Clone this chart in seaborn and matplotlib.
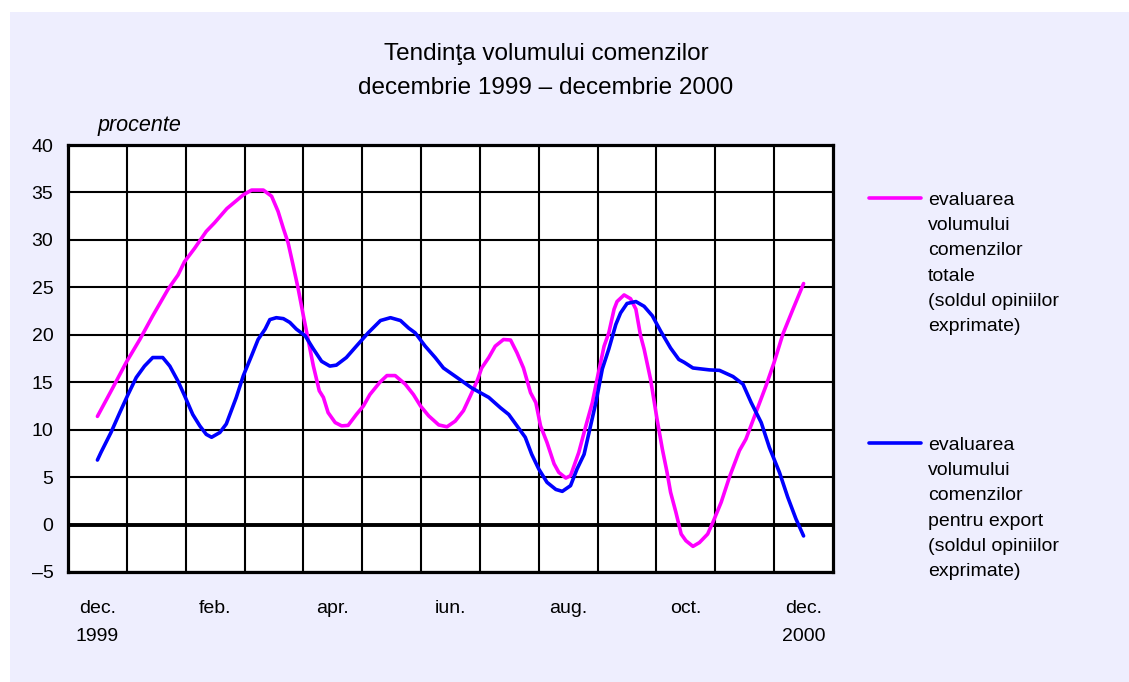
import matplotlib
matplotlib.use("Agg")
import matplotlib.pyplot as plt
import seaborn as sns
import pandas as pd
from matplotlib.patches import Rectangle
from matplotlib.ticker import MultipleLocator, FixedLocator

# month index: 0 = dec. 1999 ... 12 = dec. 2000
total_x = [0.00, 0.26, 0.49, 0.72, 0.94, 1.20, 1.37, 1.48, 1.65, 1.85, 1.99, 2.20,
           2.48, 2.62, 2.82, 2.96, 3.07, 3.16, 3.24, 3.33, 3.41, 3.50, 3.58, 3.67,
           3.77, 3.84, 3.92, 4.04, 4.15, 4.26, 4.40, 4.52, 4.63, 4.80, 4.92, 5.06,
           5.23, 5.37, 5.49, 5.63, 5.80, 5.94, 6.08, 6.22, 6.34, 6.45, 6.53, 6.65,
           6.76, 6.90, 7.02, 7.13, 7.24, 7.36, 7.45, 7.53, 7.64, 7.76, 7.84, 7.96,
           8.04, 8.18, 8.30, 8.41, 8.49, 8.61, 8.69, 8.78, 8.83, 8.95, 9.06, 9.15,
           9.23, 9.29, 9.40, 9.51, 9.60, 9.68, 9.74, 9.83, 9.92, 10.00, 10.12, 10.23,
           10.37, 10.46, 10.60, 10.74, 10.91, 11.02, 11.19, 11.36, 11.50, 11.65,
           11.82, 12.00]
total_y = [11.4, 14.4, 17.1, 19.5, 22.0, 24.8, 26.3, 27.7, 29.1, 30.9, 31.8, 33.3,
           34.75, 35.25, 35.25, 34.6, 33.0, 31.2, 29.7, 27.2, 24.9, 22.0, 19.5, 16.7,
           14.1, 13.4, 11.8, 10.75, 10.4, 10.45, 11.6, 12.5, 13.7, 15.0, 15.7, 15.7,
           14.8, 13.7, 12.5, 11.45, 10.5, 10.3, 10.9, 12.0, 13.6, 15.1, 16.5, 17.6,
           18.8, 19.5, 19.45, 18.1, 16.5, 13.9, 12.85, 10.4, 8.65, 6.4, 5.5, 4.9,
           5.15, 7.6, 10.4, 12.85, 15.3, 18.8, 20.2, 22.7, 23.5, 24.2, 23.8, 22.7,
           19.9, 18.5, 15.3, 11.1, 7.95, 5.5, 3.4, 1.3, -1.0, -1.7, -2.3, -1.9,
           -1.0, 0.25, 2.35, 5.0, 7.8, 9.0, 11.8, 14.6, 17.1, 20.1,
           22.7, 25.4]

export_x = [0.00, 0.06, 0.23, 0.38, 0.52, 0.66, 0.80, 0.94, 1.11, 1.23, 1.37, 1.48,
            1.62, 1.74, 1.85, 1.94, 2.08, 2.19, 2.36, 2.48, 2.62, 2.73, 2.85, 2.93,
            3.04, 3.16, 3.27, 3.38, 3.53, 3.67, 3.81, 3.95, 4.06, 4.23, 4.40, 4.60,
            4.81, 4.98, 5.15, 5.29, 5.40, 5.57, 5.74, 5.88, 6.11, 6.36, 6.65, 6.85,
            6.99, 7.13, 7.27, 7.38, 7.50, 7.64, 7.79, 7.90, 8.04, 8.15, 8.27, 8.38,
            8.47, 8.58, 8.69, 8.81, 8.89, 9.00, 9.15, 9.29, 9.43, 9.57, 9.74, 9.88,
            9.97, 10.12, 10.40, 10.57, 10.80, 10.97, 11.11, 11.28, 11.42, 11.59,
            11.73, 11.87, 12.00]
export_y = [6.8, 7.6, 9.7, 11.8, 13.7, 15.5, 16.7, 17.6, 17.6, 16.7, 15.1, 13.6,
            11.6, 10.4, 9.5, 9.2, 9.7, 10.6, 13.4, 15.7, 17.8, 19.5, 20.6, 21.6,
            21.8, 21.7, 21.3, 20.6, 19.9, 18.5, 17.2, 16.7, 16.8, 17.6, 18.8, 20.2,
            21.5, 21.8, 21.5, 20.7, 20.2, 18.8, 17.6, 16.5, 15.5, 14.4, 13.4, 12.3,
            11.6, 10.4, 9.2, 7.4, 5.85, 4.45, 3.7, 3.5, 4.1, 5.85, 7.4, 10.4,
            12.85, 16.4, 18.5, 21.1, 22.3, 23.3, 23.5, 23.0, 22.0, 20.4, 18.6, 17.4,
            17.1, 16.5, 16.3, 16.25, 15.6, 14.8, 12.85, 10.75, 8.1, 5.5,
            2.9, 0.6, -1.2]

month_ticks = [0, 2, 4, 6, 8, 10, 12]
month_labels = ["dec.\n1999", "feb.", "apr.", "iun.", "aug.", "oct.", "dec.\n2000"]
y_ticks = [-5, 0, 5, 10, 15, 20, 25, 30, 35, 40]
y_labels = ["\u20135", "0", "5", "10", "15", "20", "25", "30", "35", "40"]

label_total = "evaluarea\nvolumului\ncomenzilor\ntotale\n(soldul opiniilor\nexprimate)"
label_export = "evaluarea\nvolumului\ncomenzilor\npentru export\n(soldul opiniilor\nexprimate)"

pink = "#FF00FF"
blue = "#0000FF"
bg = "#EEEEFE"

sns.set_style("white")
plt.rcParams["font.family"] = ["Liberation Sans", "DejaVu Sans"]
plt.rcParams["text.color"] = "black"
plt.rcParams["xtick.color"] = "black"
plt.rcParams["ytick.color"] = "black"

fig = plt.figure(figsize=(11.29, 6.82), dpi=100)
fig.patch.set_facecolor("white")
fig.patches.append(Rectangle((10 / 1129, 0), 1 - 10 / 1129, 1 - 12 / 682,
                             transform=fig.transFigure, facecolor=bg,
                             edgecolor="none", zorder=-10))

ax = fig.add_axes([68 / 1129, 110 / 682, 765 / 1129, 427 / 682])
ax.set_facecolor("white")

df_total = pd.DataFrame({"luna": total_x, "valoare": total_y})
df_export = pd.DataFrame({"luna": export_x, "valoare": export_y})
sns.lineplot(data=df_total, x="luna", y="valoare", color=pink, lw=2.6, ax=ax, zorder=5)
sns.lineplot(data=df_export, x="luna", y="valoare", color=blue, lw=2.6, ax=ax, zorder=6)

ax.set_xlim(-0.5, 12.5)
ax.set_ylim(-5, 40)
ax.set_xlabel("")
ax.set_ylabel("")

ax.set_xticks(month_ticks)
ax.set_xticklabels(month_labels, fontsize=14, linespacing=1.85)
ax.xaxis.set_minor_locator(FixedLocator([m + 0.5 for m in range(12)]))
ax.tick_params(axis="x", which="both", length=0, pad=20)

ax.set_yticks(y_ticks)
ax.set_yticklabels(y_labels, fontsize=14)
ax.yaxis.set_minor_locator(MultipleLocator(1))
ax.tick_params(axis="y", which="major", direction="out", length=6, width=1.5, pad=4.5)
ax.tick_params(axis="y", which="minor", direction="in", length=5, width=1.3)

ax.grid(True, axis="y", which="major", color="black", lw=1.5)
ax.grid(True, axis="x", which="minor", color="black", lw=1.5)
ax.axhline(0, color="black", lw=2.8, zorder=4)
for s in ax.spines.values():
    s.set_visible(True)
    s.set_color("black")
    s.set_linewidth(2.3)

ax.text(98 / 1129, 1 - 125 / 682, "procente", transform=fig.transFigure,
        fontsize=15.5, style="italic", va="center", ha="left")

fig.text(546 / 1129, 1 - 71 / 682,
         "Tendin\u0163a volumului comenzilor\ndecembrie 1999 \u2013 decembrie 2000",
         fontsize=17.5, ha="center", va="center", linespacing=1.7)

# legend drawn by hand on the right
for yy, col, lab in [(198, pink, label_total), (443, blue, label_export)]:
    fig.add_artist(plt.Line2D([869 / 1129, 921 / 1129], [1 - yy / 682, 1 - yy / 682],
                              color=col, lw=2.6, transform=fig.transFigure))
    fig.text(928 / 1129, 1 - (yy - 6) / 682, lab, fontsize=14, ha="left", va="top",
             linespacing=1.63)

fig.savefig("out.png", dpi=100, facecolor=fig.get_facecolor())
